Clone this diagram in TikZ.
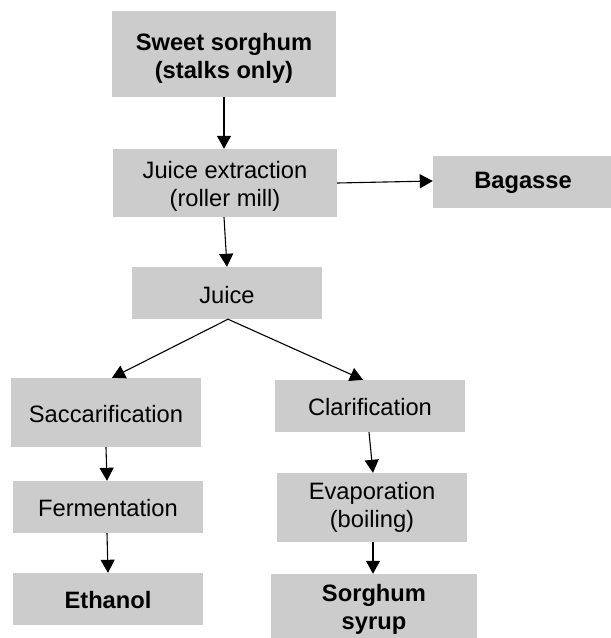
\documentclass[tikz,border=0pt]{standalone}
\usepackage{fontspec}
\setmainfont{Liberation Sans}
\usetikzlibrary{arrows.meta}
\definecolor{boxfill}{RGB}{204,204,204}
\begin{document}
\begin{tikzpicture}[x=1pt,y=-1pt,
  stage/.style={fill=boxfill, draw=none, inner sep=0pt,
    minimum width=190pt, minimum height=52pt},
  words/.style={inner sep=0pt, align=center, text=black,
    font=\fontsize{23.7}{28}\selectfont},
  boldwords/.style={words, font=\fontsize{23.7}{28}\selectfont\bfseries},
  flow/.style={-{Triangle[length=13pt,width=14pt]}, line width=1.1pt, draw=black}]
\clip (0,0) rectangle (611,638);
\fill[white] (0,0) rectangle (611,638);

% process stages (box with its caption centred inside)
\node[stage, minimum width=224pt, minimum height=86pt,
  label={[boldwords, yshift=-4pt]center:{Sweet sorghum\\(stalks only)}}] (sweet) at (224,54) {};
\node[stage, minimum width=224pt, minimum height=68pt,
  label={[words, yshift=-3pt]center:{Juice extraction\\(roller mill)}}] (jext) at (225,183) {};
\node[stage, minimum width=180pt,
  label={[boldwords, yshift=-1pt]center:{Bagasse}}] (bag) at (523,182) {};
\node[stage, label={[words, yshift=-2pt]center:{Juice}}] (juice) at (227,293) {};
\node[stage, minimum height=69pt,
  label={[words, yshift=-2pt]center:{Saccarification}}] (sacc) at (106,412.5) {};
\node[stage, label={[words, yshift=-1pt]center:{Clarification}}] (clar) at (370,406) {};
\node[stage, label={[words, yshift=-1pt]center:{Fermentation}}] (ferm) at (108,507) {};
\node[stage, minimum height=69pt,
  label={[words]center:{Evaporation\\(boiling)}}] (evap) at (372,507.5) {};
\node[stage, label={[boldwords, yshift=-1pt]center:{Ethanol}}] (eth) at (108,599) {};
\node[stage, minimum width=206pt, minimum height=74pt,
  label={[boldwords, yshift=2pt]center:{Sorghum\\syrup}}] (syrup) at (374,611) {};

% flow connectors
\draw[flow] (sweet.south) -- (jext.north -| sweet.south);
\draw[flow] ([xshift=-1pt]jext.south) -- (juice.north);
\draw[flow] (jext.east) -- ([yshift=1pt]bag.west);
\draw[flow] ([xshift=1pt]juice.south) -- ([xshift=6pt]sacc.north);
\draw[flow] ([xshift=1pt]juice.south) -- ([xshift=-7pt]clar.north);
\draw[flow] (sacc.south) -- ([xshift=-1pt]ferm.north);
\draw[flow] ([xshift=-1pt]ferm.south) -- (eth.north);
\draw[flow] ([xshift=-1pt]clar.south) -- ([xshift=1pt]evap.north);
\draw[flow] ([xshift=1pt]evap.south) -- ([xshift=-1pt]syrup.north);
\end{tikzpicture}
\end{document}
